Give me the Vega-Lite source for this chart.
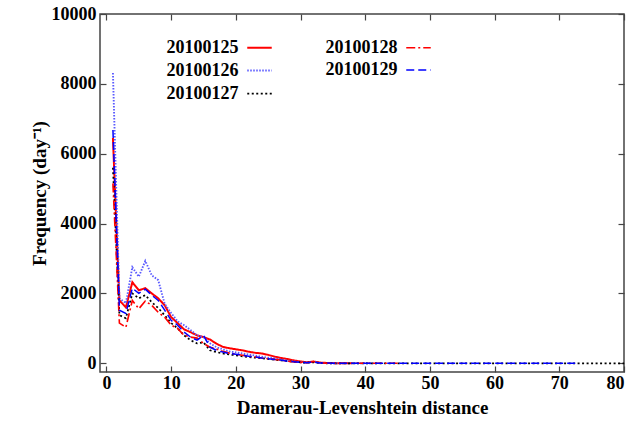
{
 "$schema": "https://vega.github.io/schema/vega-lite/v6.json",
 "width": 524, "height": 358,
 "autosize": {"type": "none"},
 "padding": {"left": 100, "top": 14, "right": 11, "bottom": 52},
 "background": "white",
 "config": {
   "font": "Liberation Serif",
   "view": {"stroke": "#444", "strokeWidth": 1.5},
   "axis": {"domain": false, "grid": false, "tickColor": "#444", "tickSize": -6, "tickWidth": 1.2,
     "labelFont": "Liberation Serif", "labelFontSize": 18, "labelFontWeight": "bold", "labelColor": "#000",
     "titleFont": "Liberation Serif", "titleFontSize": 19, "titleFontWeight": "bold", "titleColor": "#000"},
   "legend": {"padding": 0, "labelFont": "Liberation Serif", "labelFontSize": 18, "labelFontWeight": "bold", "labelColor": "#000",
     "symbolType": "stroke", "symbolSize": 600, "symbolStrokeWidth": 2, "symbolOffset": 80, "labelOffset": -106.5,
     "columnPadding": 49, "rowPadding": 0}
 },
 "data": {"values": [
  {"d":1,"20100125":6450,"20100126":8310,"20100127":5600,"20100128":5150,"20100129":6680},
  {"d":2,"20100125":1800,"20100126":1860,"20100127":1375,"20100128":1150,"20100129":1520},
  {"d":3,"20100125":1600,"20100126":1720,"20100127":1290,"20100128":1030,"20100129":1430},
  {"d":4,"20100125":2320,"20100126":2750,"20100127":2000,"20100128":1800,"20100129":2150},
  {"d":5,"20100125":2090,"20100126":2480,"20100127":1860,"20100128":1560,"20100129":2000},
  {"d":6,"20100125":2150,"20100126":2930,"20100127":1950,"20100128":1780,"20100129":2120},
  {"d":7,"20100125":2000,"20100126":2520,"20100127":1750,"20100128":1660,"20100129":1950},
  {"d":8,"20100125":1860,"20100126":2380,"20100127":1580,"20100128":1460,"20100129":1800},
  {"d":9,"20100125":1660,"20100126":1700,"20100127":1375,"20100128":1320,"20100129":1520},
  {"d":10,"20100125":1320,"20100126":1440,"20100127":1150,"20100128":1090,"20100129":1230},
  {"d":11,"20100125":1150,"20100126":1200,"20100127":1000,"20100128":1000,"20100129":1090},
  {"d":12,"20100125":970,"20100126":1090,"20100127":800,"20100128":800,"20100129":890},
  {"d":13,"20100125":890,"20100126":950,"20100127":660,"20100128":750,"20100129":750},
  {"d":14,"20100125":800,"20100126":800,"20100127":570,"20100128":720,"20100129":660},
  {"d":15,"20100125":750,"20100126":750,"20100127":600,"20100128":570,"20100129":800},
  {"d":16,"20100125":680,"20100126":570,"20100127":370,"20100128":460,"20100129":460},
  {"d":17,"20100125":560,"20100126":460,"20100127":320,"20100128":410,"20100129":370},
  {"d":18,"20100125":470,"20100126":400,"20100127":280,"20100128":340,"20100129":320},
  {"d":19,"20100125":430,"20100126":340,"20100127":250,"20100128":290,"20100129":280},
  {"d":20,"20100125":400,"20100126":310,"20100127":230,"20100128":260,"20100129":260},
  {"d":21,"20100125":370,"20100126":280,"20100127":200,"20100128":230,"20100129":230},
  {"d":22,"20100125":330,"20100126":250,"20100127":180,"20100128":200,"20100129":200},
  {"d":23,"20100125":300,"20100126":220,"20100127":160,"20100128":180,"20100129":180},
  {"d":24,"20100125":280,"20100126":190,"20100127":140,"20100128":150,"20100129":150},
  {"d":25,"20100125":240,"20100126":160,"20100127":120,"20100128":130,"20100129":130},
  {"d":26,"20100125":190,"20100126":140,"20100127":100,"20100128":110,"20100129":110},
  {"d":27,"20100125":150,"20100126":110,"20100127":80,"20100128":90,"20100129":90},
  {"d":28,"20100125":120,"20100126":80,"20100127":60,"20100128":60,"20100129":60},
  {"d":29,"20100125":80,"20100126":50,"20100127":40,"20100128":40,"20100129":40},
  {"d":30,"20100125":50,"20100126":30,"20100127":25,"20100128":25,"20100129":25},
  {"d":31,"20100125":30,"20100126":20,"20100127":15,"20100128":15,"20100129":15},
  {"d":32,"20100125":50,"20100126":40,"20100127":30,"20100128":50,"20100129":40},
  {"d":33,"20100125":20,"20100126":10,"20100127":10,"20100128":15,"20100129":10},
  {"d":34,"20100125":10,"20100126":5,"20100127":0,"20100128":5,"20100129":5},
  {"d":35,"20100125":5,"20100126":0,"20100127":0,"20100128":0,"20100129":0},
  {"d":36,"20100125":0,"20100126":0,"20100127":0,"20100128":0,"20100129":0},
  {"d":37,"20100125":0,"20100126":0,"20100127":0,"20100128":0,"20100129":0},
  {"d":38,"20100125":0,"20100126":0,"20100127":0,"20100128":0,"20100129":0},
  {"d":39,"20100126":0,"20100127":0,"20100128":0,"20100129":0},
  {"d":40,"20100126":0,"20100127":0,"20100128":0,"20100129":0},
  {"d":41,"20100126":0,"20100127":0,"20100128":0,"20100129":0},
  {"d":42,"20100126":0,"20100127":0,"20100128":0,"20100129":0},
  {"d":43,"20100127":0,"20100128":0,"20100129":0},
  {"d":44,"20100127":0,"20100128":0,"20100129":0},
  {"d":45,"20100127":0,"20100128":0,"20100129":0},
  {"d":46,"20100127":0,"20100129":0},
  {"d":47,"20100127":0,"20100129":0},
  {"d":48,"20100127":0,"20100129":0},
  {"d":49,"20100127":0,"20100129":0},
  {"d":50,"20100127":0,"20100129":0},
  {"d":51,"20100127":0,"20100129":0},
  {"d":52,"20100127":0,"20100129":0},
  {"d":53,"20100127":0,"20100129":0},
  {"d":54,"20100127":0,"20100129":0},
  {"d":55,"20100127":0,"20100129":0},
  {"d":56,"20100127":0,"20100129":0},
  {"d":57,"20100127":0,"20100129":0},
  {"d":58,"20100127":0,"20100129":0},
  {"d":59,"20100127":0,"20100129":0},
  {"d":60,"20100127":0,"20100129":0},
  {"d":61,"20100127":0,"20100129":0},
  {"d":62,"20100127":0,"20100129":0},
  {"d":63,"20100127":0,"20100129":0},
  {"d":64,"20100127":0,"20100129":0},
  {"d":65,"20100127":0,"20100129":0},
  {"d":66,"20100127":0,"20100129":0},
  {"d":67,"20100127":0,"20100129":0},
  {"d":68,"20100127":0,"20100129":0},
  {"d":69,"20100127":0,"20100129":0},
  {"d":70,"20100127":0,"20100129":0},
  {"d":71,"20100127":0,"20100129":0},
  {"d":72,"20100127":0,"20100129":0},
  {"d":73,"20100127":0,"20100129":0},
  {"d":74,"20100127":0},
  {"d":75,"20100127":0},
  {"d":76,"20100127":0},
  {"d":77,"20100127":0},
  {"d":78,"20100127":0},
  {"d":79,"20100127":0},
  {"d":80,"20100127":0}
 ]},
 "transform": [
  {"fold": ["20100125","20100126","20100127","20100128","20100129"], "as": ["date","freq"]},
  {"filter": "isValid(datum.freq)"}
 ],
 "layer": [
  {"mark": {"type": "line", "clip": true},
   "encoding": {
    "x": {"field": "d", "type": "quantitative", "scale": {"domain": [-1, 80], "nice": false, "zero": false},
      "axis": {"values": [0,10,20,30,40,50,60,70,80], "format": "d", "title": "Damerau-Levenshtein distance", "labelPadding": 8, "titlePadding": 6}},
    "y": {"field": "freq", "type": "quantitative", "scale": {"domain": [-250, 10000], "nice": false, "zero": false},
      "axis": {"values": [0,2000,4000,6000,8000,10000], "format": "d", "title": "Frequency (day⁻¹)", "labelPadding": 10, "titlePadding": 2}},
    "color": {"field": "date", "type": "nominal",
      "scale": {"domain": ["20100125","20100126","20100127","20100128","20100129"], "range": ["#ff0000","#5a5aff","#000000","#ff0000","#0000ff"]},
      "legend": {"orient": "none", "legendX": 66, "legendY": 20, "title": null, "columns": 2}},
    "strokeDash": {"field": "date", "type": "nominal",
      "scale": {"domain": ["20100125","20100126","20100127","20100128","20100129"], "range": [[1,0],[1.5,1.5],[2,2.5],[9,3,2,3],[8,4]]},
      "legend": {"orient": "none", "legendX": 66, "legendY": 20, "title": null, "columns": 2}},
    "strokeWidth": {"field": "date", "type": "nominal",
      "scale": {"domain": ["20100125","20100126","20100127","20100128","20100129"], "range": [2,1.5,2,2,2.2]},
      "legend": null}
   }},
  {"mark": {"type": "point", "opacity": 0},
   "encoding": {
    "x": {"field": "d", "type": "quantitative", "scale": {"domain": [-1, 80], "nice": false, "zero": false},
      "axis": {"orient": "top", "values": [0,10,20,30,40,50,60,70,80], "labels": false, "title": null}},
    "y": {"field": "freq", "type": "quantitative", "scale": {"domain": [-250, 10000], "nice": false, "zero": false},
      "axis": {"orient": "right", "values": [0,2000,4000,6000,8000,10000], "labels": false, "title": null}}
   }}
 ],
 "resolve": {"axis": {"x": "independent", "y": "independent"}}
}
